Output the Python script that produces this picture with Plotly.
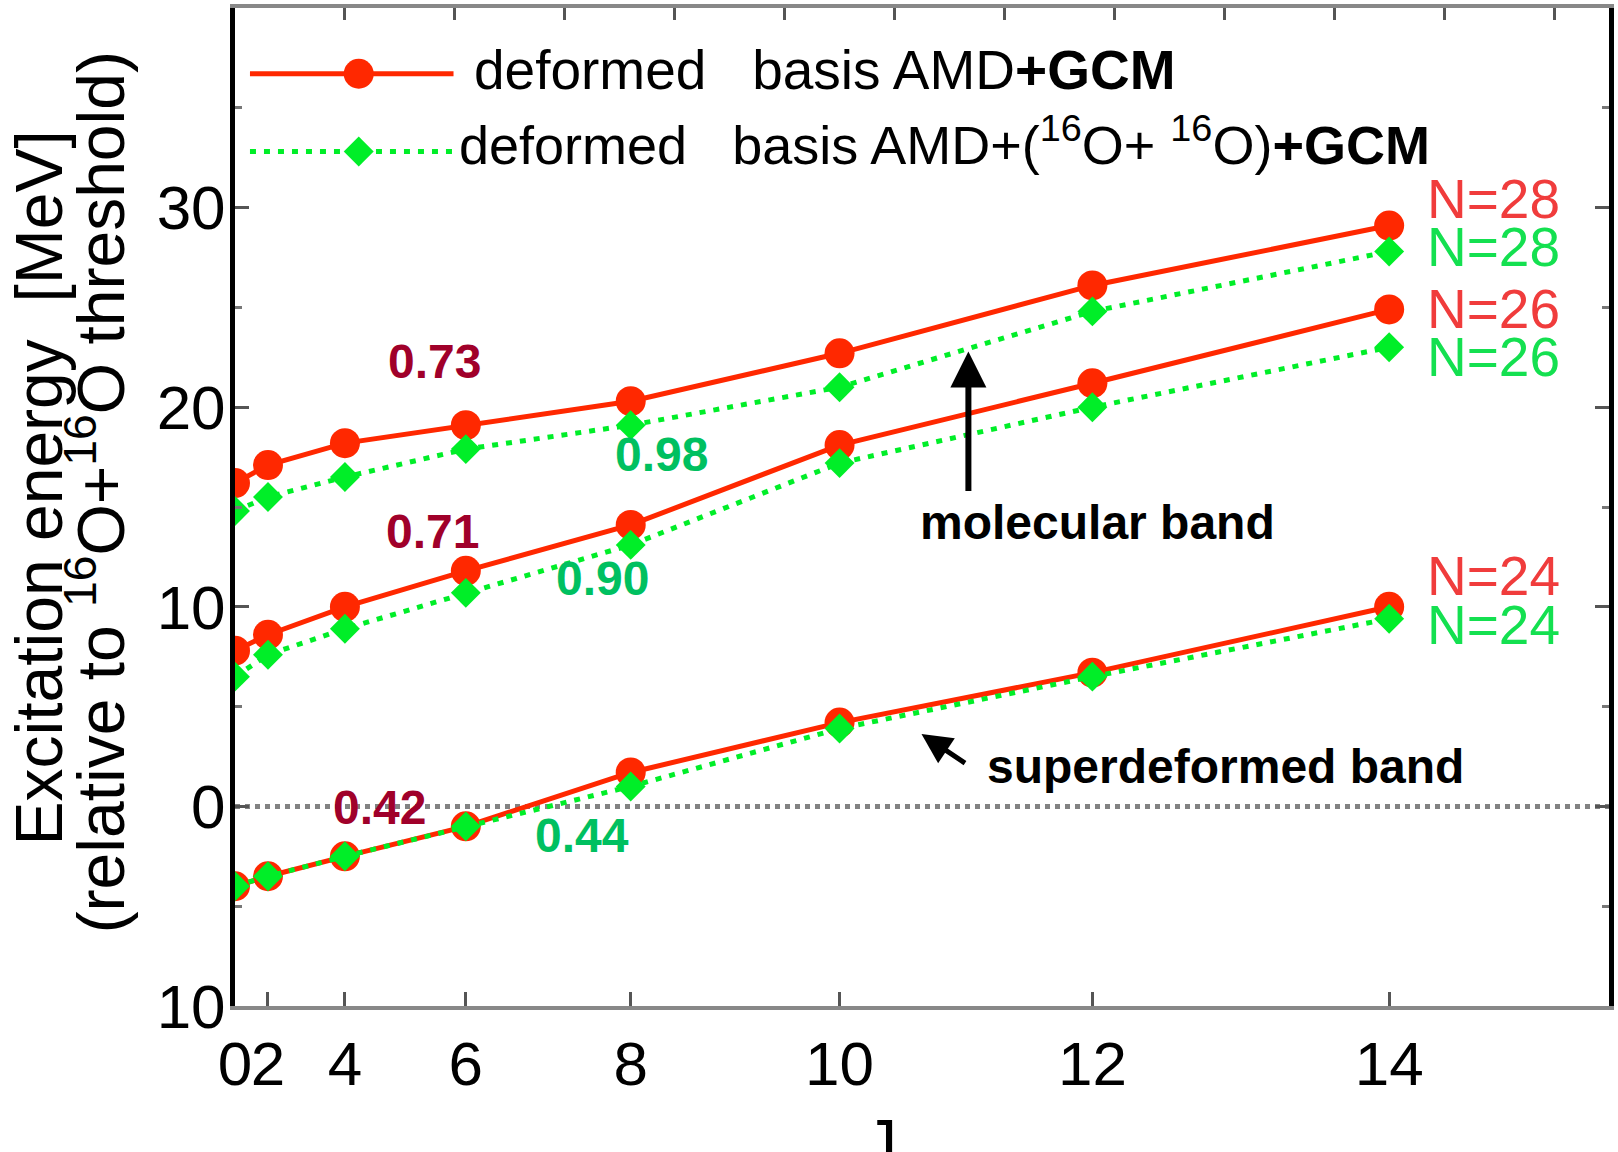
import plotly.graph_objects as go

# ---------------- data ----------------
J = [0, 2, 4, 6, 8, 10, 12, 14]
J_labels = ["0", "2", "4", "6", "8", "10", "12", "14"]

# deformed basis AMD+GCM (red)
amd_N28 = [16.2, 17.1, 18.2, 19.1, 20.3, 22.7, 26.1, 29.1]
amd_N26 = [7.8, 8.6, 10.0, 11.8, 14.1, 18.1, 21.2, 24.9]
amd_N24 = [-4.0, -3.5, -2.5, -1.0, 1.7, 4.2, 6.7, 10.0]

# deformed basis AMD+(16O+16O)+GCM (green)
oo_N28 = [14.8, 15.5, 16.5, 17.9, 19.1, 21.0, 24.8, 27.8]
oo_N26 = [6.5, 7.6, 8.9, 10.7, 13.1, 17.2, 20.0, 23.0]
oo_N24 = [-4.0, -3.5, -2.5, -1.0, 1.0, 3.9, 6.5, 9.4]

y_tickvals = [-10, 0, 10, 20, 30]
y_ticktext = ["10", "0", "10", "20", "30"]

band_values = [("0.73", "amd"), ("0.98", "oo"), ("0.71", "amd"),
               ("0.90", "oo"), ("0.42", "amd"), ("0.44", "oo")]

# ---------------- styling / geometry ----------------
W, H = 1618, 1152
L, R, T, B = 235, 6, 4, 146
XR = [0, 250]
YR = [-10, 40]
pw, ph = W - L - R, H - T - B

def px2x(px):
    return XR[0] + (px - L) / pw * (XR[1] - XR[0])

def py2y(py):
    return YR[1] - (py - T) / ph * (YR[1] - YR[0])

FONT = "Liberation Sans, Arial, Helvetica, sans-serif"
RED = "rgb(255,40,0)"
GREEN = "rgb(0,238,40)"
DARKRED = "#A0002A"
ANN_GREEN = "#00C060"
NRED = "#F03C3C"
NGREEN = "#14E050"
RSIZE, GSIZE = 30, 23

xs = [j * (j + 1) for j in J]

fig = go.Figure()

def add_series(y, kind):
    if kind == "amd":
        fig.add_trace(go.Scatter(
            x=xs, y=y, mode="lines+markers",
            line=dict(color=RED, width=5),
            marker=dict(symbol="circle", size=RSIZE, color=RED),
            showlegend=False, hoverinfo="skip"))
    else:
        fig.add_trace(go.Scatter(
            x=xs, y=y, mode="lines+markers",
            line=dict(color=GREEN, width=5, dash="6px,8px"),
            marker=dict(symbol="diamond", size=GSIZE, color=GREEN),
            showlegend=False, hoverinfo="skip"))

for ys in (amd_N28, amd_N26, amd_N24):
    add_series(ys, "amd")
for ys in (oo_N28, oo_N26, oo_N24):
    add_series(ys, "oo")

# ---------------- hand-drawn legend (glyphs on top axis x2) ----------------
lx0, lxm, lx1 = px2x(250), px2x(359), px2x(454)
ly1, ly2 = py2y(70), py2y(148)
fig.add_trace(go.Scatter(x=[lx0, lx1], y=[ly1, ly1], mode="lines",
                         line=dict(color=RED, width=5),
                         xaxis="x2", yaxis="y", showlegend=False, hoverinfo="skip"))
fig.add_trace(go.Scatter(x=[lxm], y=[ly1], mode="markers",
                         marker=dict(symbol="circle", size=RSIZE, color=RED, opacity=1),
                         xaxis="x2", yaxis="y", showlegend=False, hoverinfo="skip"))
fig.add_trace(go.Scatter(x=[lx0, lx1], y=[ly2, ly2], mode="lines",
                         line=dict(color=GREEN, width=5, dash="6px,8px"),
                         xaxis="x2", yaxis="y", showlegend=False, hoverinfo="skip"))
fig.add_trace(go.Scatter(x=[lxm], y=[ly2], mode="markers",
                         marker=dict(symbol="diamond", size=GSIZE, color=GREEN, opacity=1),
                         xaxis="x2", yaxis="y", showlegend=False, hoverinfo="skip"))

ann = []
ann.append(dict(x=px2x(473), y=py2y(66), xref="x", yref="y", xanchor="left",
                yanchor="middle", showarrow=False,
                text="deformed&nbsp;&nbsp;&nbsp;basis AMD<b>+GCM</b>",
                font=dict(family=FONT, size=55, color="black")))
ann.append(dict(x=px2x(457), y=py2y(138), xref="x", yref="y", xanchor="left",
                yanchor="middle", showarrow=False,
                text="deformed&nbsp;&nbsp;&nbsp;basis AMD+(<sup>16</sup>O+&nbsp;<sup>16</sup>O)<b>+GCM</b>",
                font=dict(family=FONT, size=54, color="black")))

# band values
val_pos = [(435, 359), (662, 452), (433, 530), (603, 577), (380, 807), (583, 835)]
for (txt, kind), (px, py) in zip(band_values, val_pos):
    ann.append(dict(x=px2x(px), y=py2y(py), xref="x", yref="y", showarrow=False,
                    text="<b>%s</b>" % txt,
                    font=dict(family=FONT, size=48,
                              color=DARKRED if kind == "amd" else ANN_GREEN)))

# N labels
n_labels = [("N=28", NRED, 196), ("N=28", NGREEN, 244), ("N=26", NRED, 306),
            ("N=26", NGREEN, 354), ("N=24", NRED, 574), ("N=24", NGREEN, 623)]
for txt, col, py in n_labels:
    ann.append(dict(x=px2x(1496), y=py2y(py), xref="x", yref="y", showarrow=False,
                    text=txt, font=dict(family=FONT, size=55, color=col)))

# band names + arrows
ann.append(dict(x=px2x(1099), y=py2y(521), xref="x", yref="y", showarrow=False,
                text="<b>molecular band</b>", font=dict(family=FONT, size=48, color="black")))
ann.append(dict(x=px2x(1228), y=py2y(766), xref="x", yref="y", showarrow=False,
                text="<b>superdeformed band</b>", font=dict(family=FONT, size=48, color="black")))
ann.append(dict(x=px2x(970), y=py2y(349), xref="x", yref="y", text="", showarrow=True,
                ax=0, ay=141, arrowhead=2, arrowsize=1.2, arrowwidth=6,
                arrowcolor="black", standoff=0))
ann.append(dict(x=px2x(923), y=py2y(733), xref="x", yref="y", text="", showarrow=True,
                ax=45, ay=30, arrowhead=2, arrowsize=1.2, arrowwidth=5,
                arrowcolor="black", standoff=0))

# axis titles
ann.append(dict(x=(39 - L) / pw, y=(H - B - 486) / ph, xref="paper", yref="paper",
                showarrow=False, textangle=-90, xanchor="center", yanchor="middle",
                text="Excitation energy&nbsp;&nbsp;[MeV]",
                font=dict(family=FONT, size=66, color="black")))
ann.append(dict(x=(96 - L) / pw, y=(H - B - 490) / ph, xref="paper", yref="paper",
                showarrow=False, textangle=-90, xanchor="center", yanchor="middle",
                text="(relative to <sup>16</sup>O+<sup>16</sup>O threshold)",
                font=dict(family=FONT, size=66, color="black")))
ann.append(dict(x=(882 - L) / pw, y=-(1104 - (H - B)) / ph, xref="paper", yref="paper",
                showarrow=False, xanchor="center", yanchor="top",
                text="J", font=dict(family=FONT, size=66, color="black")))

fig.update_layout(
    width=W, height=H,
    margin=dict(l=L, r=R, t=T, b=B, pad=0),
    plot_bgcolor="white", paper_bgcolor="white",
    showlegend=False,
    annotations=ann,
    shapes=[dict(type="line", xref="paper", yref="y", x0=0, x1=1, y0=0, y1=0,
                 line=dict(color="rgb(130,130,130)", width=5, dash="5px,5px"),
                 layer="below")],
    xaxis=dict(range=XR, tickmode="array", tickvals=xs, ticktext=J_labels,
               ticks="inside", ticklen=14, tickwidth=3, tickcolor="#555",
               showline=True, linecolor="#888", linewidth=4, mirror=True,
               showgrid=False, zeroline=False, tickangle=0,
               ticklabelstandoff=1,
               tickfont=dict(family=FONT, size=62, color="black")),
    xaxis2=dict(range=XR, overlaying="x", side="top", tick0=0, dtick=20,
                ticks="inside", ticklen=12, tickwidth=3, tickcolor="#555",
                showticklabels=False, showline=False, showgrid=False, zeroline=False),
    yaxis=dict(range=YR, tickmode="array", tickvals=y_tickvals, ticktext=y_ticktext,
               ticks="inside", ticklen=14, tickwidth=3, tickcolor="#555",
               minor=dict(tick0=0, dtick=5, ticks="inside", ticklen=7,
                          tickwidth=3, tickcolor="#777", showgrid=False),
               showline=True, linecolor="black", linewidth=5, mirror="ticks",
               showgrid=False, zeroline=False, ticklabelstandoff=-8,
               tickfont=dict(family=FONT, size=62, color="black")),
)

fig.write_html("out.html", config={"displayModeBar": False},
               post_script="document.body.style.margin='0';document.body.style.overflow='hidden';")
